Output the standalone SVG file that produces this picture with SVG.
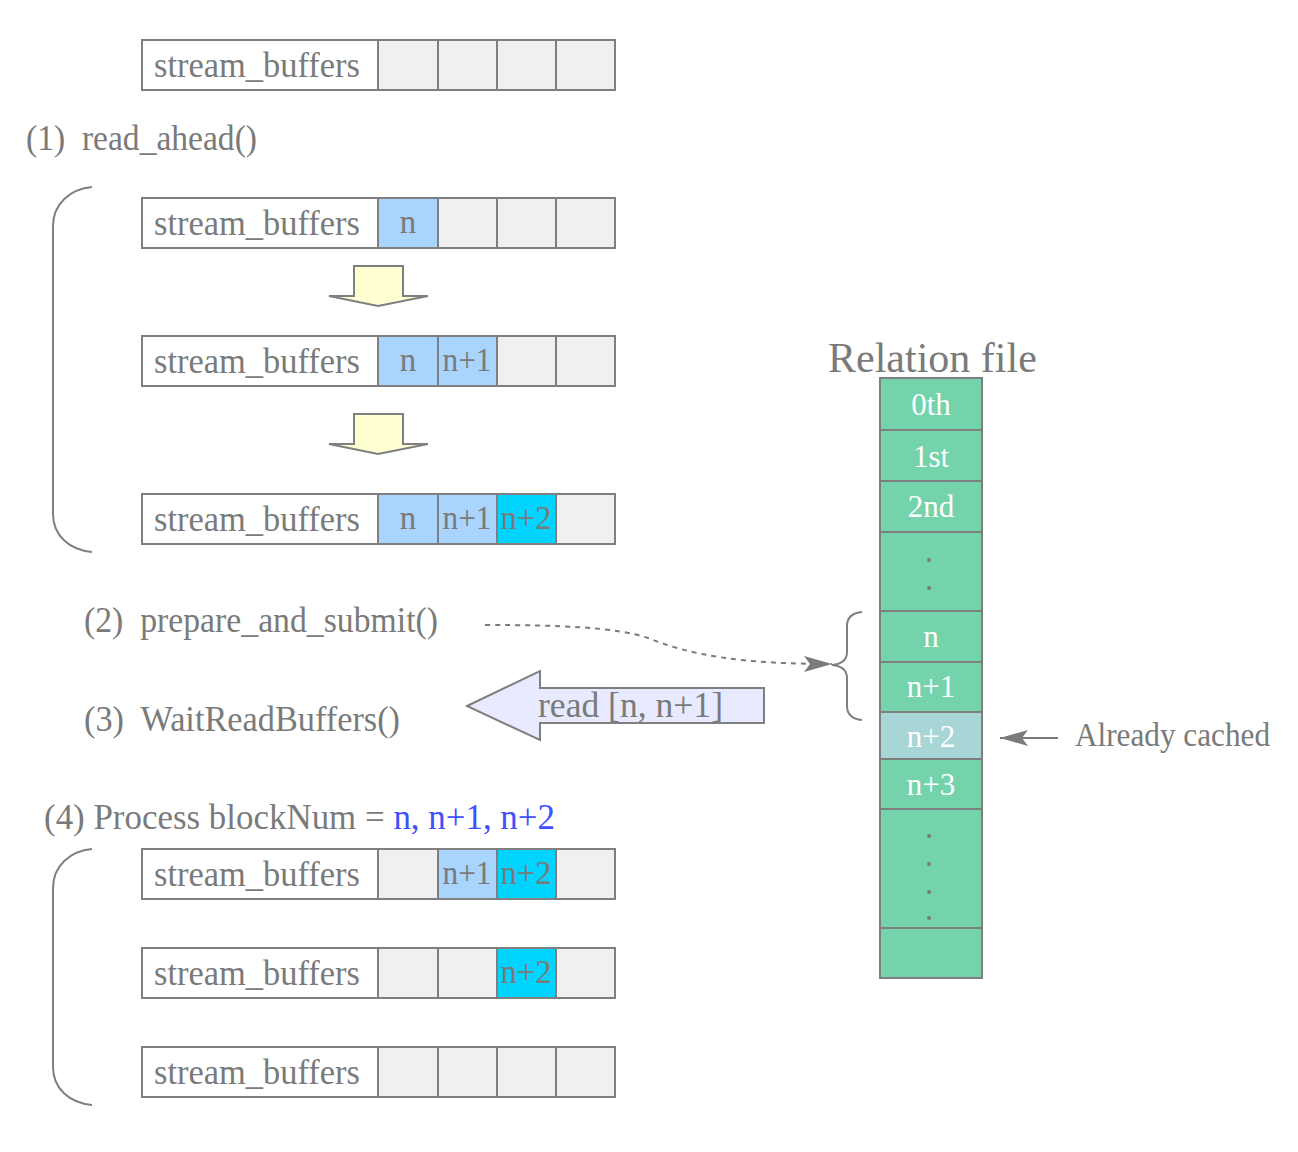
<svg xmlns="http://www.w3.org/2000/svg" width="1298" height="1152" viewBox="0 0 1298 1152">
<defs>
<style>
.lbl{fill:#fff;stroke:#7f7f7f;stroke-width:2}
.cell{fill:#f0f0f0;stroke:#7f7f7f;stroke-width:2}
.b1{fill:#a8d4fe;stroke:#7f7f7f;stroke-width:2}
.b2{fill:#00d4fe;stroke:#7f7f7f;stroke-width:2}
.t{font-family:"Liberation Serif","Times New Roman",serif;fill:#7a7a7a}
.sb{font-size:36px}
.ct{font-size:33px;text-anchor:middle}
.rf{fill:#74d3ab;stroke:#7f7f7f;stroke-width:2}
.rfc{fill:#a8d5d5;stroke:#7f7f7f;stroke-width:2}
.rt{font-family:"Liberation Serif","Times New Roman",serif;fill:#fff;font-size:31px;text-anchor:middle}
.dot{fill:#7a7a7a}
.yarrow{fill:#ffffd2;stroke:#7f7f7f;stroke-width:2}
.brace{fill:none;stroke:#7f7f7f;stroke-width:2}
</style>
<marker id="ah" markerWidth="30" markerHeight="18" refX="28" refY="9" orient="auto" markerUnits="userSpaceOnUse">
<path d="M0,1 L28,9 L0,17 L6,9 Z" fill="#7a7a7a"/>
</marker>
</defs>
<rect width="1298" height="1152" fill="#fff"/>

<g id="row0">
<rect class="lbl" x="142" y="40" width="236" height="50"/>
<text class="t sb" x="154" y="77" textLength="206" lengthAdjust="spacingAndGlyphs">stream_buffers</text>
<rect class="cell" x="378" y="40" width="60" height="50"/>
<rect class="cell" x="438" y="40" width="59" height="50"/>
<rect class="cell" x="497" y="40" width="59" height="50"/>
<rect class="cell" x="556" y="40" width="59" height="50"/>
</g>

<g id="step1-label"><text class="t sb" x="26" y="150" xml:space="preserve" textLength="231" lengthAdjust="spacingAndGlyphs">(1)  read_ahead()</text></g>

<g id="brace1"><path class="brace" d="M92,187 C70,189 53,204 53,226 V514 C53,536 70,550 92,552"/></g>

<g id="row1">
<rect class="lbl" x="142" y="198" width="236" height="50"/>
<text class="t sb" x="154" y="235" textLength="206" lengthAdjust="spacingAndGlyphs">stream_buffers</text>
<rect class="b1" x="378" y="198" width="60" height="50"/>
<text class="t ct" x="408" y="233">n</text>
<rect class="cell" x="438" y="198" width="59" height="50"/>
<rect class="cell" x="497" y="198" width="59" height="50"/>
<rect class="cell" x="556" y="198" width="59" height="50"/>
</g>

<g id="yarrow1"><path class="yarrow" d="M354,266 H403 V296 H428 L378,306 L329,296 H354 Z"/></g>

<g id="row2">
<rect class="lbl" x="142" y="336" width="236" height="50"/>
<text class="t sb" x="154" y="373" textLength="206" lengthAdjust="spacingAndGlyphs">stream_buffers</text>
<rect class="b1" x="378" y="336" width="60" height="50"/>
<text class="t ct" x="408" y="371">n</text>
<rect class="b1" x="438" y="336" width="59" height="50"/>
<text class="t ct" x="467" y="371" textLength="49" lengthAdjust="spacingAndGlyphs">n+1</text>
<rect class="cell" x="497" y="336" width="59" height="50"/>
<rect class="cell" x="556" y="336" width="59" height="50"/>
</g>

<g id="yarrow2"><path class="yarrow" d="M354,414 H403 V444 H428 L378,454 L329,444 H354 Z"/></g>

<g id="row3">
<rect class="lbl" x="142" y="494" width="236" height="50"/>
<text class="t sb" x="154" y="531" textLength="206" lengthAdjust="spacingAndGlyphs">stream_buffers</text>
<rect class="b1" x="378" y="494" width="60" height="50"/>
<text class="t ct" x="408" y="529">n</text>
<rect class="b1" x="438" y="494" width="59" height="50"/>
<text class="t ct" x="467" y="529" textLength="49" lengthAdjust="spacingAndGlyphs">n+1</text>
<rect class="b2" x="497" y="494" width="59" height="50"/>
<text class="t ct" x="526" y="529" textLength="51" lengthAdjust="spacingAndGlyphs">n+2</text>
<rect class="cell" x="556" y="494" width="59" height="50"/>
</g>

<g id="step2-label"><text class="t sb" x="84" y="632" xml:space="preserve" textLength="354" lengthAdjust="spacingAndGlyphs">(2)  prepare_and_submit()</text></g>
<g id="step3-label"><text class="t sb" x="84" y="731" xml:space="preserve" textLength="316" lengthAdjust="spacingAndGlyphs">(3)  WaitReadBuffers()</text></g>

<g id="read-arrow">
<path d="M467,706 L540,671 V688 H764 V723 H540 V740 Z" fill="#e8eaff" stroke="#7f7f7f" stroke-width="2"/>
<text class="t sb" x="538" y="717" textLength="185" lengthAdjust="spacingAndGlyphs">read [n, n+1]</text>
</g>

<g id="step4-label"><text class="t sb" x="44" y="829" textLength="511" lengthAdjust="spacingAndGlyphs">(4) Process blockNum = <tspan fill="#3f51ff">n, n+1, n+2</tspan></text></g>

<g id="brace4"><path class="brace" d="M92,849 C70,851 53,866 53,888 V1067 C53,1089 70,1103 92,1105"/></g>

<g id="row4">
<rect class="lbl" x="142" y="849" width="236" height="50"/>
<text class="t sb" x="154" y="886" textLength="206" lengthAdjust="spacingAndGlyphs">stream_buffers</text>
<rect class="cell" x="378" y="849" width="60" height="50"/>
<rect class="b1" x="438" y="849" width="59" height="50"/>
<text class="t ct" x="467" y="884" textLength="49" lengthAdjust="spacingAndGlyphs">n+1</text>
<rect class="b2" x="497" y="849" width="59" height="50"/>
<text class="t ct" x="526" y="884" textLength="51" lengthAdjust="spacingAndGlyphs">n+2</text>
<rect class="cell" x="556" y="849" width="59" height="50"/>
</g>

<g id="row5">
<rect class="lbl" x="142" y="948" width="236" height="50"/>
<text class="t sb" x="154" y="985" textLength="206" lengthAdjust="spacingAndGlyphs">stream_buffers</text>
<rect class="cell" x="378" y="948" width="60" height="50"/>
<rect class="cell" x="438" y="948" width="59" height="50"/>
<rect class="b2" x="497" y="948" width="59" height="50"/>
<text class="t ct" x="526" y="983" textLength="51" lengthAdjust="spacingAndGlyphs">n+2</text>
<rect class="cell" x="556" y="948" width="59" height="50"/>
</g>

<g id="row6">
<rect class="lbl" x="142" y="1047" width="236" height="50"/>
<text class="t sb" x="154" y="1084" textLength="206" lengthAdjust="spacingAndGlyphs">stream_buffers</text>
<rect class="cell" x="378" y="1047" width="60" height="50"/>
<rect class="cell" x="438" y="1047" width="59" height="50"/>
<rect class="cell" x="497" y="1047" width="59" height="50"/>
<rect class="cell" x="556" y="1047" width="59" height="50"/>
</g>

<g id="relation-file">
<text class="t" x="828" y="372" font-size="42">Relation file</text>
<rect class="rf" x="880" y="378" width="102" height="52"/>
<text class="rt" x="931" y="415">0th</text>
<rect class="rf" x="880" y="430" width="102" height="51"/>
<text class="rt" x="931" y="467">1st</text>
<rect class="rf" x="880" y="481" width="102" height="51"/>
<text class="rt" x="931" y="517">2nd</text>
<rect class="rf" x="880" y="532" width="102" height="79"/>
<circle class="dot" cx="929" cy="560" r="2"/>
<circle class="dot" cx="929" cy="588" r="2"/>
<rect class="rf" x="880" y="611" width="102" height="51"/>
<text class="rt" x="931" y="647">n</text>
<rect class="rf" x="880" y="662" width="102" height="50"/>
<text class="rt" x="931" y="697">n+1</text>
<rect class="rfc" x="880" y="712" width="102" height="47"/>
<text class="rt" x="931" y="747">n+2</text>
<rect class="rf" x="880" y="759" width="102" height="50"/>
<text class="rt" x="931" y="795">n+3</text>
<rect class="rf" x="880" y="809" width="102" height="119"/>
<circle class="dot" cx="929" cy="836" r="2"/>
<circle class="dot" cx="929" cy="864" r="2"/>
<circle class="dot" cx="929" cy="892" r="2"/>
<circle class="dot" cx="929" cy="918" r="2"/>
<rect class="rf" x="880" y="928" width="102" height="50"/>
</g>

<g id="brace-rel"><path class="brace" d="M862,612 C852,613 847,618 847,626 V652 C847,660 842,664 832,665 C842,666 847,670 847,678 V706 C847,714 852,719 862,720"/></g>

<g id="already-cached-label"><text class="t" x="1075" y="746" font-size="33" textLength="195" lengthAdjust="spacingAndGlyphs">Already cached</text></g>

<g id="connectors">
<path d="M485,625 C560,625 615,627 648,638 C690,655 740,664 832,664" fill="none" stroke="#7a7a7a" stroke-width="2" stroke-dasharray="5,5" marker-end="url(#ah)"/>
<path d="M1058,738 H1000" fill="none" stroke="#7a7a7a" stroke-width="2" marker-end="url(#ah)"/>
</g>
</svg>
